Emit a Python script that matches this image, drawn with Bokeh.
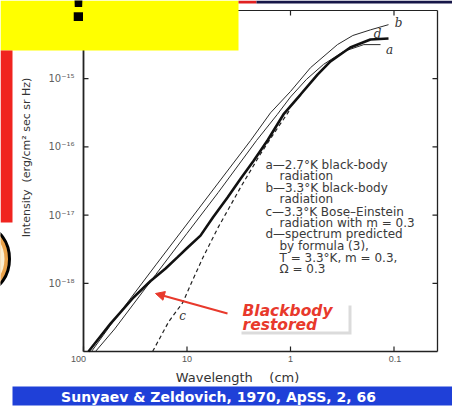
import math
from bokeh.plotting import figure
from bokeh.models import Range1d, LogScale, Label, Arrow, NormalHead
from bokeh.core.properties import value
from bokeh.embed import file_html
from bokeh.resources import INLINE

# ---------------- data ----------------
# a: 2.7 K black-body
lam_a = [76.6, 50, 20, 10, 5, 2.13, 1.34, 1.0, 0.7, 0.48, 0.308, 0.196, 0.135]
int_a = [1.0e-19, 2.14e-19, 1.35e-18, 5.4e-18, 2.14e-17, 1.24e-16, 3.0e-16, 5.4e-16,
         9.8e-16, 1.62e-15, 2.5e-15, 3.16e-15, 3.16e-15]
# b: 3.3 K black-body
lam_b = [83.7, 50, 20, 10, 5, 2.43, 1.56, 1.0, 0.641, 0.352, 0.25, 0.169, 0.113]
int_b = [1.0e-19, 2.95e-19, 1.86e-18, 7.4e-18, 2.95e-17, 1.24e-16, 3.16e-16, 6.5e-16,
         1.45e-15, 3.16e-15, 4.3e-15, 5.2e-15, 6.2e-15]
# c: 3.3 K Bose-Einstein, m = 0.3 (dashed)
lam_c = [21.5, 15, 11, 8.85, 7, 5, 3, 2, 1.5, 1.0]
int_c = [1.0e-19, 2.75e-19, 5.2e-19, 1.1e-18, 2.4e-18, 6.6e-18, 2.63e-17, 7.4e-17,
         1.45e-16, 3.6e-16]
# d: spectrum predicted by formula (3) (thick)
lam_d = [89.5, 54.8, 32.9, 22.5, 16.1, 12.4, 9.74, 7.41, 5.6, 4.06, 3.0, 2.28, 1.67, 1.17,
         0.80, 0.548, 0.411, 0.265, 0.169, 0.113]
int_d = [1.0e-19, 2.57e-19, 6.19e-19, 1.08e-18, 1.65e-18, 2.4e-18, 3.4e-18, 5.0e-18,
         9.3e-18, 1.81e-17, 3.5e-17, 6.2e-17, 1.24e-16, 2.99e-16, 5.86e-16, 1.15e-15,
         1.79e-15, 2.87e-15, 3.76e-15, 3.89e-15]

x_ticks = [100, 10, 1, 0.1]
x_labels = ["100", "10", "1", "0.1"]
y_ticks = [1e-18, 1e-17, 1e-16, 1e-15]
y_labels = ["10\u207b\u00b9\u2078", "10\u207b\u00b9\u2077", "10\u207b\u00b9\u2076", "10\u207b\u00b9\u2075"]

legend_lines = ["a\u20142.7\u00b0K black-body", "radiation",
                "b\u20143.3\u00b0K black-body", "radiation",
                "c\u20143.3\u00b0K Bose\u2013Einstein", "radiation with m = 0.3",
                "d\u2014spectrum predicted", "by formula (3),",
                "T = 3.3\u00b0K, m = 0.3,", "\u03a9 = 0.3"]

# ---------------- geometry ----------------
W, H = 452, 412
PX_DEC_X, PX_DEC_Y = 103.5, 68.2       # pixels per decade of the scanned graph


def lam(X):      # page column -> wavelength (cm)
    return 100 / 10 ** ((X - 83) / PX_DEC_X)


def inten(Y):    # page row -> intensity
    return 10 ** (-14 - (Y - 10) / PX_DEC_Y)


LAM0, LAM1 = 100, lam(437)   # axis limits
I0, I1 = 1e-19, 1e-14

p = figure(width=W, height=H, x_range=Range1d(0, W), y_range=Range1d(H, 0),
           output_backend="svg", toolbar_location=None,
           x_axis_location=None, y_axis_location=None,
           min_border=0, min_border_left=0, min_border_right=0,
           min_border_top=0, min_border_bottom=0)
p.title.visible = False
p.outline_line_color = None
p.grid.visible = False
p.background_fill_color = "white"
p.border_fill_color = "white"
p.extra_x_ranges = {"lam": Range1d(lam(0), lam(W))}
p.extra_x_scales = {"lam": LogScale()}
p.extra_y_ranges = {"I": Range1d(inten(H), inten(0))}
p.extra_y_scales = {"I": LogScale()}
LOG = dict(x_range_name="lam", y_range_name="I")

# ---------------- axes (frame, ticks, labels) ----------------
ax_col = "#222222"
p.segment(x0=[LAM0, LAM0, LAM1, LAM0], y0=[I0, I0, I0, I1],
          x1=[LAM0, LAM1, LAM1, LAM1], y1=[I1, I0, I1, I1],
          line_color=ax_col, line_width=[1.8, 1.3, 1.3, 1.0], **LOG)
TX, TY = 10 ** (5 / PX_DEC_X), 10 ** (5 / PX_DEC_Y)
p.segment(x0=x_ticks, y0=[I0] * 4, x1=x_ticks, y1=[I0 * TY] * 4,
          line_color=ax_col, line_width=1.2, **LOG)
p.segment(x0=x_ticks, y0=[I1] * 4, x1=x_ticks, y1=[I1 / TY] * 4,
          line_color=ax_col, line_width=1.2, **LOG)
p.segment(x0=[LAM0] * 4, y0=y_ticks, x1=[LAM0 / TX] * 4, y1=y_ticks,
          line_color=ax_col, line_width=1.2, **LOG)
p.segment(x0=[LAM1] * 4, y0=y_ticks, x1=[LAM1 * TX] * 4, y1=y_ticks,
          line_color=ax_col, line_width=1.2, **LOG)

p.text(x=x_ticks, y=[I0] * 4, text=x_labels, y_offset=4, x_offset=[-5, 0, 0, 1],
       text_font=value("Liberation Sans"), text_font_size="9px", text_color="#555555",
       text_align="center", text_baseline="top", **LOG)
p.text(x=[LAM0] * 4, y=y_ticks, text=y_labels, x_offset=-9,
       text_font=value("DejaVu Sans"), text_font_size="10px", text_color="#606060",
       text_align="right", text_baseline="middle", **LOG)

p.add_layout(Label(x=26, y=157, text="Intensity\u00a0\u00a0(erg/cm\u00b2 sec sr Hz)",
                   angle=math.pi / 2, text_font="DejaVu Sans", text_font_size="11px",
                   text_color="#333333", text_align="center", text_baseline="middle"))
p.add_layout(Label(x=237, y=377, text="Wavelength\u00a0\u00a0\u00a0\u00a0(cm)",
                   text_font="DejaVu Sans", text_font_size="13px", text_color="#333333",
                   text_align="center", text_baseline="middle"))

# ---------------- curves ----------------
p.line(lam_b, int_b, line_color="#2a2a2a", line_width=1, **LOG)
p.line(lam_a, int_a, line_color="#2a2a2a", line_width=1, **LOG)
p.line(lam_c, int_c, line_color="#222222", line_width=1.2, line_dash="4 3", **LOG)
p.line(lam_d, int_d, line_color="#111111", line_width=2.6, **LOG)

for t, X, Y in (("b", 398, 22), ("d", 377, 33), ("a", 389, 49), ("c", 182, 315)):
    p.add_layout(Label(x=X, y=Y, text=t, text_font="DejaVu Serif",
                       text_font_style="italic", text_font_size="12px", text_color="#333333",
                       text_align="center", text_baseline="middle"))

rows_y = [164, 175, 187, 198, 211, 222, 233, 245, 257, 268]
for i, (t, Y) in enumerate(zip(legend_lines, rows_y)):
    X = 265 if i in (0, 2, 4, 6) else 279
    p.add_layout(Label(x=X, y=Y, text=t, text_font="DejaVu Sans",
                       text_font_size="12px", text_color="#3a3a3a",
                       text_align="left", text_baseline="middle"))

# ---------------- "Blackbody restored" callout ----------------
red = "#e8392c"
p.quad(left=[241], right=[351], top=[305], bottom=[334], fill_color="#999999",
       fill_alpha=0.35, line_color=None)
p.quad(left=[238], right=[348], top=[302], bottom=[331], fill_color="white",
       line_color=None)
p.add_layout(Label(x=242, y=310, text="Blackbody", text_font="DejaVu Sans",
                   text_font_style="bold italic", text_font_size="15.5px", text_color=red,
                   text_align="left", text_baseline="middle"))
p.add_layout(Label(x=242, y=324, text="restored", text_font="DejaVu Sans",
                   text_font_style="bold italic", text_font_size="15.5px", text_color=red,
                   text_align="left", text_baseline="middle"))
p.add_layout(Arrow(x_start=227, y_start=313, x_end=155, y_end=293,
                   line_color=red, line_width=2,
                   end=NormalHead(size=9, fill_color=red, line_color=red)))

# ---------------- slide decorations ----------------
p.quad(left=[0], right=[238], top=[0], bottom=[50], fill_color="#ffff00", line_color=None)
p.quad(left=[0], right=[12], top=[50], bottom=[222], fill_color="#f0241f", line_color=None)
p.quad(left=[238], right=[256], top=[0], bottom=[3], fill_color="#e02020", line_color=None)
p.quad(left=[256], right=[452], top=[0], bottom=[3], fill_color="#161648", line_color=None)
p.ellipse(x=[-14], y=[258.5], width=[46], height=[62], fill_color="#eaa24a",
          line_color="black", line_width=3)
p.ellipse(x=[-14], y=[258.5], width=[36], height=[50], fill_color="#fbeed2",
          line_color=None)
p.quad(left=[12], right=[452], top=[386], bottom=[405], fill_color="#1f40d8",
       line_color=None)

p.add_layout(Label(x=78, y=-3, text="!", text_font="Liberation Sans",
                   text_font_style="bold", text_font_size="66px", text_color="black",
                   text_align="center", text_baseline="alphabetic"))
p.add_layout(Label(x=218, y=396, text="Sunyaev & Zeldovich, 1970, ApSS, 2, 66",
                   text_font="DejaVu Sans", text_font_style="bold",
                   text_font_size="14px", text_color="white",
                   text_align="center", text_baseline="middle"))

open("out.html", "w").write(file_html(p, INLINE))
